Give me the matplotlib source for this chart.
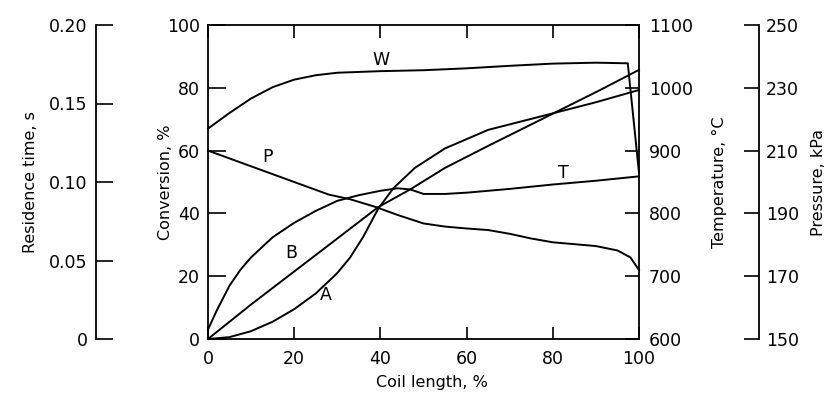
import matplotlib
matplotlib.use("Agg")
import matplotlib.pyplot as plt

plt.rcParams['font.family'] = ['DejaVu Sans']

# ---- data ----
coil_ticks = [0, 20, 40, 60, 80, 100]

# W : wall temperature, deg C
w_x = [0, 5, 10, 15, 20, 25, 30, 40, 50, 60, 70, 80, 90, 97.4, 100]
w_temp = [935, 960, 983, 1001, 1013, 1020, 1024, 1026.5, 1028, 1031, 1035, 1038.5, 1040, 1039, 865]

# T : process temperature, deg C
t_x = [0, 1, 2, 3.5, 5, 7.5, 10, 15, 20, 25, 30, 35, 40, 44, 47, 50, 55, 60, 70, 80, 90, 100]
t_temp = [615, 630, 645, 665, 685, 710, 730, 762, 785, 804, 820, 829, 836, 840, 838, 831, 831, 833, 839, 846, 852, 859]

# P : pressure, kPa
p_x = [0, 10, 20, 28, 33, 39, 44, 50, 55, 60, 65, 70, 75, 80, 85, 90, 95, 98, 100]
p_kpa = [210, 205, 200, 196, 194.5, 192, 189.5, 186.8, 185.8, 185.2, 184.7, 183.5, 182, 180.8, 180.2, 179.6, 178.2, 176, 172]

# A : conversion, %
a_x = [0, 5, 10, 15, 20, 25, 30, 33, 36, 39.5, 43, 48, 55, 65, 77, 90, 100]
a_conv = [0, 0.6, 2.5, 5.5, 9.5, 14.5, 21, 26, 32.5, 41.5, 48, 54.5, 60.7, 66.6, 70.8, 75.4, 79.3]

# B : residence time, s
b_x = [0, 10, 20, 30, 39.5, 47, 55, 65, 77, 91, 100]
b_time = [0, 0.022, 0.043, 0.064, 0.084, 0.0954, 0.109, 0.123, 0.1394, 0.1586, 0.1714]

conv_ticks = [0, 20, 40, 60, 80, 100]
temp_ticks = [600, 700, 800, 900, 1000, 1100]
pres_ticks = [150, 170, 190, 210, 230, 250]
time_ticks = [0, 0.05, 0.10, 0.15, 0.20]
time_labels = ['0', '0.05', '0.10', '0.15', '0.20']

# ---- figure ----
fig = plt.figure(figsize=(8.32, 4.0), dpi=100)
ax = fig.add_axes([0.25, 0.1525, 0.518, 0.785])
lw = 1.4
fs = 12.5
lfs = 11.5

ax.set_xlim(0, 100)
ax.set_ylim(0, 100)
ax.set_xticks(coil_ticks)
ax.set_yticks(conv_ticks)
ax.tick_params(axis='x', direction='in', length=9, width=1.2, top=True, labelsize=fs, pad=8)
ax.tick_params(axis='y', direction='in', length=13, width=1.2, labelsize=fs, pad=6)
for s in ax.spines.values():
    s.set_linewidth(1.3)
ax.set_xlabel('Coil length, %', fontsize=lfs)
ax.xaxis.set_label_coords(0.52, -0.115)
ax.set_ylabel('Conversion, %', fontsize=lfs)
ax.yaxis.set_label_coords(-0.081, 0.5)

# temperature axis
axT = ax.twinx()
axT.set_ylim(600, 1100)
axT.set_yticks(temp_ticks)
axT.tick_params(axis='y', direction='in', length=10, width=1.2, labelsize=fs, pad=7)
axT.set_ylabel('Temperature, °C', fontsize=lfs)
axT.yaxis.set_label_coords(1.169, 0.5)
for s in axT.spines.values():
    s.set_visible(False)

# residence time axis
axR = ax.twinx()
axR.yaxis.tick_left()
axR.yaxis.set_label_position('left')
for k, s in axR.spines.items():
    s.set_visible(k == 'left')
axR.spines['left'].set_position(('axes', -0.26))
axR.spines['left'].set_linewidth(1.3)
axR.set_ylim(0, 0.20)
axR.set_yticks(time_ticks)
axR.set_yticklabels(time_labels)
axR.tick_params(axis='y', direction='in', length=12, width=1.2, labelsize=fs, pad=6)
axR.set_ylabel('Residence time, s', fontsize=lfs)
axR.yaxis.set_label_coords(-0.394, 0.5)

# pressure axis
axP = ax.twinx()
for k, s in axP.spines.items():
    s.set_visible(k == 'right')
axP.spines['right'].set_position(('axes', 1.278))
axP.spines['right'].set_linewidth(1.3)
axP.set_ylim(150, 250)
axP.set_yticks(pres_ticks)
axP.tick_params(axis='y', direction='in', length=11, width=1.2, labelsize=fs, pad=5)
axP.set_ylabel('Pressure, kPa', fontsize=lfs)
axP.yaxis.set_label_coords(1.399, 0.5)

# curves
axT.plot(w_x, w_temp, color='black', lw=lw, clip_on=False)
axT.plot(t_x, t_temp, color='black', lw=lw, clip_on=False)
axP.plot(p_x, p_kpa, color='black', lw=lw, clip_on=False)
ax.plot(a_x, a_conv, color='black', lw=lw, clip_on=False)
axR.plot(b_x, b_time, color='black', lw=lw, clip_on=False)

# curve labels
lab = dict(fontsize=fs, ha='center', va='center')
ax.text(40.1, 89, 'W', **lab)
ax.text(13.9, 58, 'P', **lab)
ax.text(82.4, 53, 'T', **lab)
ax.text(19.3, 27.4, 'B', **lab)
ax.text(27.4, 14, 'A', **lab)

fig.savefig('out.png', dpi=100)
